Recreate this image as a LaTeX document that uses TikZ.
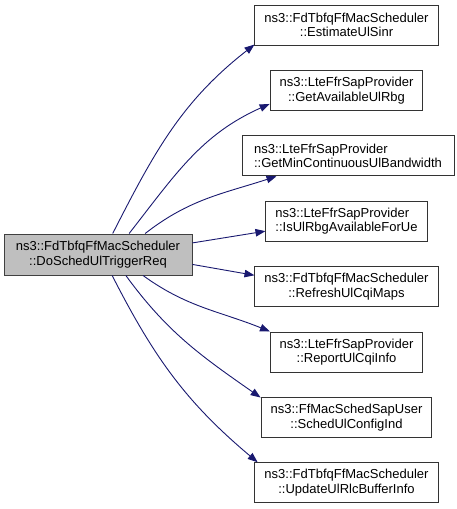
\documentclass[tikz,border=0pt]{standalone}
\usepackage{fontspec}
\setmainfont{Liberation Sans}
\usetikzlibrary{arrows.meta}
\definecolor{edgeblue}{HTML}{191970}
\definecolor{mainfill}{HTML}{BFBFBF}
\tikzset{
	fn/.style={draw=black!80, line width=1pt, fill=white, minimum height=40pt, inner xsep=9.5pt, inner ysep=0pt, align=center, font=\fontsize{13}{14.5}\selectfont},
	fnleft/.style={fn, align=left},
	fnmain/.style={fn, fill=mainfill, draw=black!75, minimum width=188pt, minimum height=41pt},
	call/.style={draw=edgeblue, line width=0.9pt, -{Triangle[length=10pt,width=7.5pt]}}
}
\begin{document}
\begin{tikzpicture}[x=1pt,y=1pt]
		\useasboundingbox (0,0) rectangle (457,-509);
		\node[fnmain] (main) at (98,-254.5) {ns3::FdTbfqFfMacScheduler\\::DoSchedUlTriggerReq};
		\node[fn] (estsinr) at (346.5,-25) {ns3::FdTbfqFfMacScheduler\\::EstimateUlSinr};
		\node[fn] (availrbg) at (346.5,-90.4) {ns3::LteFfrSapProvider\\::GetAvailableUlRbg};
		\node[fnleft, minimum width=212pt] (minbw) at (348,-155.8) {ns3::LteFfrSapProvider\\::GetMinContinuousUlBandwidth};
		\node[fnleft] (rbgforue) at (346.5,-221.2) {ns3::LteFfrSapProvider\\::IsUlRbgAvailableForUe};
		\node[fn] (refresh) at (346.5,-286.6) {ns3::FdTbfqFfMacScheduler\\::RefreshUlCqiMaps};
		\node[fn] (report) at (346.5,-352) {ns3::LteFfrSapProvider\\::ReportUlCqiInfo};
		\node[fn] (config) at (346.5,-417.4) {ns3::FfMacSchedSapUser\\::SchedUlConfigInd};
		\node[fn] (rlcbuf) at (346.5,-482.8) {ns3::FdTbfqFfMacScheduler\\::UpdateUlRlcBufferInfo};
		% calls
		\draw[call] (main.55) to[out=63,in=218] (estsinr.192);
		\draw[call] (main.34) to[out=52,in=204] (availrbg.190);
		\draw[call] (main.24) to[out=38,in=198] (minbw.196);
		\draw[call] (main.7) -- (rbgforue.187);
		\draw[call] (main.-6) -- (refresh.173);
		\draw[call] (main.-25) to[out=-36,in=158] (report.165);
		\draw[call] (main.-37) to[out=-54,in=145] (config.167);
		\draw[call] (main.-56) to[out=-63,in=140] (rlcbuf.167);
	\end{tikzpicture}
\end{document}
